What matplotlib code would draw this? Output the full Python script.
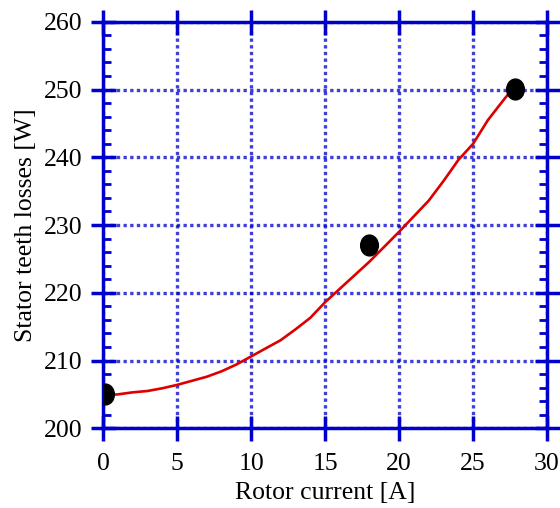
import matplotlib
matplotlib.use("Agg")
import matplotlib.pyplot as plt
from matplotlib.path import Path
from matplotlib.transforms import Affine2D
from matplotlib.ticker import MultipleLocator

# simulated curve
current = [0.2, 1, 2, 3, 4, 5, 6, 7, 8, 9, 10, 11, 12, 13, 14, 15, 16, 17, 18,
           19, 20, 21, 22, 23, 24, 25, 26, 27, 27.8]
losses = [204.9, 205.0, 205.3, 205.5, 205.9, 206.4, 207.0, 207.6, 208.4, 209.4,
          210.6, 211.8, 213.0, 214.6, 216.3, 218.6, 220.6, 222.6, 224.6, 226.8,
          229.0, 231.3, 233.6, 236.5, 239.6, 242.0, 245.5, 248.3, 250.5]

# measured points
meas_current = [0.1, 18.0, 27.8]
meas_losses = [205.0, 227.0, 250.1]

plt.rcParams["font.family"] = ["Liberation Serif", "DejaVu Serif"]
blue = "#0000cc"

fig = plt.figure(figsize=(5.6, 5.08), dpi=100)
ax = fig.add_axes([0.184, 0.157, 0.793, 0.8])

ax.grid(True, which="major", color=blue, linestyle=(0, (1, 1)), linewidth=2.4, alpha=0.75)
ax.plot(current, losses, color="#dd0000", linewidth=1.9, zorder=3)
dot = Path.unit_circle().transformed(Affine2D().scale(0.85, 1.0))
ax.plot(meas_current, meas_losses, linestyle="none", marker=dot, color="black",
        markersize=15, zorder=4)

ax.set_xlim(0, 30)
ax.set_ylim(200, 260)
ax.xaxis.set_major_locator(MultipleLocator(5))
ax.yaxis.set_major_locator(MultipleLocator(10))
ax.yaxis.set_minor_locator(MultipleLocator(2))

for s in ax.spines.values():
    s.set_color(blue)
    s.set_linewidth(2.5)

ax.tick_params(which="major", direction="inout", length=18, width=2.5, color=blue,
               top=True, right=True, labelsize=18.5)
ax.tick_params(axis="x", which="major", pad=9)
ax.tick_params(axis="y", which="major", pad=6)
ax.tick_params(axis="y", which="minor", direction="in", length=6, width=2, color=blue,
               left=True, right=True)

ax.set_xlabel("Rotor current [A]", fontsize=18.5, labelpad=5)
ax.set_ylabel("Stator teeth losses [W]", fontsize=18.5, labelpad=5)

fig.savefig("out.png", dpi=100)
